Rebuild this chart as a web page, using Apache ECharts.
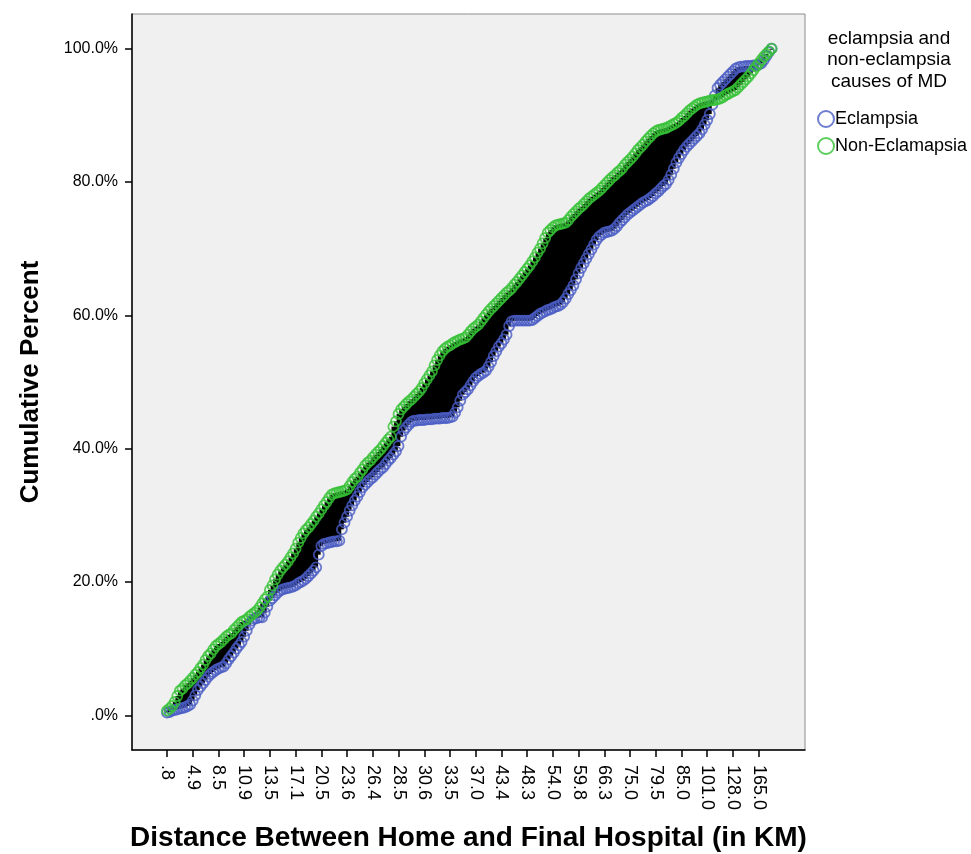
<!DOCTYPE html>
<html>
<head>
<meta charset="utf-8">
<title>Cumulative Percent</title>
<script src="https://cdn.jsdelivr.net/npm/echarts@6/dist/echarts.min.js"></script>
<style>
  html, body { margin: 0; padding: 0; background: #fff; }
  #chart { width: 971px; height: 854px; }
</style>
</head>
<body>
<div id="chart"></div>
<script>
// x tick labels (distance in KM), one label every 10 categories
const tickLabels = ['.8', '4.9', '8.5', '10.9', '13.5', '17.1', '20.5', '23.6', '26.4', '28.5', '30.6', '33.5',
    '37.0', '43.4', '48.3', '54.0', '59.8', '66.3', '75.0', '79.5', '85.0', '101.0', '128.0', '165.0'];
const labelEvery = 10;

const yTicks = [0, 20, 40, 60, 80, 100];
const yTickLabels = ['.0%', '20.0%', '40.0%', '60.0%', '80.0%', '100.0%'];

const seriesNames = ['Eclampsia', 'Non-Eclamapsia'];

// cumulative percent per distance category
const eclampsia = [
    0.4, 0.5, 0.7, 0.8, 0.9, 1.0, 1.1, 1.2, 1.4, 1.6,
    2.2, 3.0, 3.8, 4.3, 4.8, 5.3, 5.8, 6.2, 6.5, 6.8,
    7.0, 7.2, 7.3, 7.8, 8.4, 8.9, 9.4, 10.0, 10.5, 11.0,
    11.8, 12.7, 13.6, 14.2, 14.5, 14.6, 14.7, 14.7, 15.4, 16.3,
    17.2, 17.6, 18.0, 18.4, 18.7, 18.9, 19.0, 19.1, 19.2, 19.3,
    19.5, 19.8, 20.0, 20.2, 20.5, 20.9, 21.3, 21.7, 22.2, 24.1,
    25.4, 25.7, 25.8, 25.9, 26.0, 26.1, 26.1, 26.2, 27.9, 28.9,
    29.8, 30.7, 31.5, 32.2, 32.8, 33.5, 34.2, 34.6, 35.0, 35.4,
    35.7, 36.1, 36.5, 36.9, 37.2, 37.7, 38.2, 38.6, 39.1, 39.6,
    40.4, 41.8, 42.7, 43.2, 43.6, 44.0, 44.2, 44.2, 44.3, 44.3,
    44.3, 44.4, 44.4, 44.4, 44.5, 44.5, 44.5, 44.6, 44.6, 44.6,
    44.7, 44.8, 45.4, 46.2, 47.2, 48.1, 48.5, 48.9, 49.5, 50.1,
    50.6, 50.9, 51.2, 51.4, 51.7, 52.3, 53.0, 53.9, 54.6, 55.3,
    55.8, 56.4, 57.1, 58.4, 59.1, 59.2, 59.2, 59.2, 59.2, 59.2,
    59.2, 59.2, 59.3, 59.6, 59.9, 60.2, 60.4, 60.6, 60.8, 60.9,
    61.1, 61.3, 61.4, 61.6, 62.0, 62.5, 63.2, 63.8, 64.5, 65.4,
    66.3, 67.1, 67.8, 68.5, 69.2, 69.9, 70.6, 71.3, 71.8, 72.1,
    72.4, 72.5, 72.6, 72.7, 73.0, 73.4, 73.9, 74.3, 74.7, 75.1,
    75.4, 75.7, 76.0, 76.3, 76.6, 76.9, 77.1, 77.3, 77.6, 77.9,
    78.3, 78.6, 79.0, 79.4, 79.7, 80.3, 81.1, 82.0, 82.9, 83.6,
    84.2, 84.8, 85.3, 85.7, 86.1, 86.5, 86.9, 87.3, 87.9, 88.6,
    89.3, 90.2, 91.6, 93.0, 94.1, 94.6, 95.0, 95.4, 95.8, 96.2,
    96.6, 97.0, 97.2, 97.3, 97.3, 97.4, 97.4, 97.4, 97.5, 97.5,
    97.6, 97.8, 98.3, 98.9, 99.5, 100.0
];
const nonEclampsia = [
    0.7, 1.0, 1.4, 2.0, 2.9, 3.7, 4.0, 4.5, 4.8, 5.2,
    5.6, 6.1, 6.5, 7.1, 7.6, 8.3, 8.9, 9.3, 9.9, 10.4,
    10.7, 11.0, 11.4, 11.8, 12.1, 12.3, 12.8, 13.2, 13.6, 14.0,
    14.2, 14.4, 14.8, 15.1, 15.4, 15.7, 16.2, 16.8, 17.4, 17.8,
    18.8, 19.5, 20.4, 21.1, 21.7, 22.2, 22.6, 23.1, 23.7, 24.3,
    25.0, 25.9, 26.6, 27.3, 27.8, 28.2, 28.7, 29.2, 29.8, 30.3,
    30.9, 31.5, 32.0, 32.6, 33.1, 33.3, 33.4, 33.5, 33.6, 33.7,
    33.9, 34.4, 35.0, 35.5, 35.8, 36.4, 36.9, 37.5, 37.9, 38.2,
    38.7, 39.1, 39.5, 39.9, 40.4, 40.9, 41.4, 41.8, 43.3, 44.1,
    45.2, 45.9, 46.3, 46.7, 47.1, 47.4, 47.8, 48.2, 48.6, 49.1,
    49.8, 50.4, 51.0, 51.6, 52.5, 53.3, 54.0, 54.6, 55.0, 55.3,
    55.5, 55.8, 56.0, 56.2, 56.4, 56.5, 56.7, 57.1, 57.6, 58.0,
    58.3, 58.6, 59.1, 59.6, 60.1, 60.6, 61.0, 61.4, 61.8, 62.2,
    62.6, 63.0, 63.4, 63.7, 64.1, 64.6, 65.0, 65.5, 66.0, 66.5,
    67.0, 67.5, 68.1, 68.7, 69.4, 70.0, 70.8, 71.6, 72.4, 72.8,
    73.2, 73.5, 73.6, 73.7, 73.8, 73.9, 74.3, 74.8, 75.2, 75.6,
    76.0, 76.3, 76.7, 77.1, 77.5, 77.8, 78.1, 78.4, 78.7, 79.1,
    79.5, 79.9, 80.3, 80.7, 81.0, 81.4, 81.7, 82.1, 82.6, 83.0,
    83.4, 83.8, 84.3, 84.8, 85.2, 85.6, 86.1, 86.5, 86.9, 87.3,
    87.6, 87.8, 87.9, 88.0, 88.1, 88.3, 88.5, 88.7, 88.9, 89.2,
    89.6, 89.9, 90.3, 90.7, 91.0, 91.3, 91.6, 91.8, 91.9, 92.0,
    92.1, 92.2, 92.3, 92.3, 92.4, 92.5, 92.7, 93.0, 93.2, 93.4,
    93.6, 93.8, 94.2, 94.6, 95.0, 95.4, 95.8, 96.3, 96.8, 97.3,
    97.8, 98.3, 98.8, 99.2, 99.6, 100.0
];

const FONT = "'Liberation Sans', Arial, sans-serif";
const BLUE = '#4a5cc4';
const GREEN = '#36c236';

const tickIdx = tickLabels.map((_, k) => k * labelEvery);
const lastIdx = eclampsia.length - 1;

// drop lines between the two groups at each category
const dropData = eclampsia.map((e, i) => [i, Math.min(e, nonEclampsia[i]), Math.max(e, nonEclampsia[i])]);

const chart = echarts.init(document.getElementById('chart'));

chart.setOption({
    animation: false,
    textStyle: { fontFamily: FONT },
    grid: {
        left: 132, right: 166, top: 14, bottom: 104,
        outerBoundsMode: 'none',
        containLabel: false,
        show: true, backgroundColor: '#f0f0f0', borderColor: '#8c8c8c', borderWidth: 1
    },
    xAxis: {
        type: 'value',
        min: -13.6,
        max: lastIdx + 13,
        name: 'Distance Between Home and Final Hospital (in KM)',
        nameLocation: 'middle',
        nameGap: 74,
        nameTextStyle: { fontFamily: FONT, fontSize: 28, fontWeight: 'bold', color: '#000' },
        axisLine: { show: true, onZero: false, lineStyle: { color: '#000', width: 1.5 } },
        axisTick: { show: true, length: 7, customValues: tickIdx, lineStyle: { color: '#000', width: 1.5 } },
        axisLabel: {
            customValues: tickIdx,
            rotate: -90,
            margin: 15,
            fontSize: 18,
            color: '#000',
            fontFamily: FONT,
            formatter: v => tickLabels[tickIdx.indexOf(v)]
        },
        splitLine: { show: false }
    },
    yAxis: {
        type: 'value',
        min: -5.2,
        max: 105.2,
        name: 'Cumulative Percent',
        nameLocation: 'middle',
        nameGap: 88,
        nameTextStyle: { fontFamily: FONT, fontSize: 26, fontWeight: 'bold', color: '#000' },
        axisLine: { show: true, onZero: false, lineStyle: { color: '#000', width: 1.5 } },
        axisTick: { show: true, length: 7, customValues: yTicks, lineStyle: { color: '#000', width: 1.5 } },
        axisLabel: {
            customValues: yTicks,
            margin: 14,
            fontSize: 16,
            color: '#000',
            fontFamily: FONT,
            formatter: v => yTickLabels[yTicks.indexOf(v)]
        },
        splitLine: { show: false }
    },
    legend: {
        data: seriesNames,
        orient: 'vertical',
        left: 812,
        top: 105,
        itemWidth: 16,
        itemHeight: 16,
        itemGap: 9,
        textStyle: { fontFamily: FONT, fontSize: 18, color: '#000', padding: [0, 0, 0, -4] }
    },
    graphic: [{
        type: 'text',
        x: 889,
        y: 28,
        style: {
            text: 'eclampsia and\nnon-eclampsia\ncauses of MD',
            fontFamily: FONT,
            fontSize: 19,
            lineHeight: 21.5,
            fill: '#000',
            align: 'center'
        }
    }],
    series: [
        {
            type: 'custom',
            silent: true,
            data: dropData,
            encode: { x: 0, y: [1, 2] },
            renderItem: (params, api) => {
                const top = api.coord([api.value(0), api.value(2)]);
                const bot = api.coord([api.value(0), api.value(1)]);
                const w = api.size([1, 0])[0] + 1.2;
                return {
                    type: 'rect',
                    shape: { x: top[0] - w / 2, y: top[1], width: w, height: Math.max(bot[1] - top[1], 1) },
                    style: { fill: '#000' }
                };
            },
            z: 1
        },
        {
            name: seriesNames[0],
            type: 'scatter',
            symbol: 'circle',
            symbolSize: 10,
            data: eclampsia.map((v, i) => [i, v]),
            itemStyle: { color: 'rgba(255,255,255,0)', borderColor: BLUE, borderWidth: 1.8 },
            z: 2
        },
        {
            name: seriesNames[1],
            type: 'scatter',
            symbol: 'circle',
            symbolSize: 10,
            data: nonEclampsia.map((v, i) => [i, v]),
            itemStyle: { color: 'rgba(255,255,255,0)', borderColor: GREEN, borderWidth: 1.8 },
            z: 3
        }
    ]
});
</script>
</body>
</html>
